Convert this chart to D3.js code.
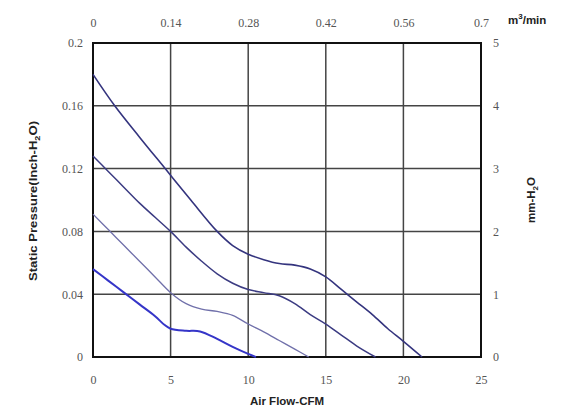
<!DOCTYPE html>
<html>
<head>
<meta charset="utf-8">
<script src="https://cdn.jsdelivr.net/npm/d3@7"></script>
<style>
  body { margin: 0; background: #fff; }
  .tick text { font-family: "Liberation Serif", "DejaVu Serif", serif; font-size: 12px; fill: #555; }
  .title { font-family: "Liberation Sans", Arial, sans-serif; font-weight: bold; font-size: 11.5px; fill: #222; }
</style>
</head>
<body>
<svg id="chart" width="570" height="410"></svg>
<script>
// CFM ticks (bottom) and m3/min ticks (top)
const cfmTicks = [0, 5, 10, 15, 20, 25];
const cmmTicks = ["0", "0.14", "0.28", "0.42", "0.56", "0.7"];
const inchTicks = [0, 0.04, 0.08, 0.12, 0.16, 0.2];
const mmTicks = [0, 1, 2, 3, 4, 5];

// curves: [CFM, inch-H2O]
const curveHigh = [[0,0.18],[1.4,0.16],[3,0.14],[4.65,0.12],[6.3,0.10],[8,0.08],[9,0.071],[10,0.0655],[11,0.062],[12,0.0595],[13,0.0585],[14,0.056],[15,0.051],[16,0.043],[17,0.035],[18,0.027],[19,0.018],[20,0.010],[21.2,0]];
const curveMid = [[0,0.128],[1,0.118],[2,0.108],[3,0.098],[4,0.089],[5,0.080],[6,0.070],[7,0.061],[8,0.053],[9,0.047],[10,0.043],[11,0.041],[12,0.039],[13,0.034],[14,0.027],[15,0.021],[16,0.014],[17,0.007],[18.2,0]];
const curveLow = [[0,0.091],[1,0.081],[2,0.071],[3,0.061],[4,0.051],[5,0.041],[6,0.034],[7,0.0305],[8,0.029],[9,0.0265],[10,0.021],[11,0.016],[12,0.0105],[13,0.005],[13.9,0]];
const curveMin = [[0,0.056],[1,0.0485],[2,0.041],[3,0.0335],[4,0.026],[4.6,0.0205],[5,0.018],[6,0.0167],[6.9,0.0163],[8,0.0115],[9,0.0065],[10,0.002],[10.5,0]];

const curves = [
  { data: curveHigh, color: "#34347e", width: 1.6 },
  { data: curveMid, color: "#3b3b82", width: 1.5 },
  { data: curveLow, color: "#7070aa", width: 1.3 },
  { data: curveMin, color: "#3535c8", width: 2 }
];

const svg = d3.select("#chart");
const m = { left: 93, right: 481, top: 43, bottom: 357 };

const x = d3.scaleLinear().domain([0, 25]).range([m.left, m.right]);
const y = d3.scaleLinear().domain([0, 0.2]).range([m.bottom, m.top]);
const yMM = d3.scaleLinear().domain([0, 5]).range([m.bottom, m.top]);

// grid
const grid = svg.append("g").attr("stroke", "#444").attr("stroke-width", 1.5);
grid.selectAll(".gx").data(cfmTicks.slice(1, -1)).join("line")
  .attr("x1", d => x(d)).attr("x2", d => x(d))
  .attr("y1", m.top).attr("y2", m.bottom);
grid.selectAll(".gy").data(inchTicks.slice(1, -1)).join("line")
  .attr("x1", m.left).attr("x2", m.right)
  .attr("y1", d => y(d)).attr("y2", d => y(d));

// axes
const bottomAxis = svg.append("g").attr("transform", `translate(0,${m.bottom})`)
  .call(d3.axisBottom(x).tickValues(cfmTicks).tickSize(0).tickPadding(18));
const topAxis = svg.append("g").attr("transform", `translate(0,${m.top})`)
  .call(d3.axisTop(x).tickValues(cfmTicks).tickFormat((d, i) => cmmTicks[i]).tickSize(0).tickPadding(16));
const leftAxis = svg.append("g").attr("transform", `translate(${m.left},0)`)
  .call(d3.axisLeft(y).tickValues(inchTicks).tickFormat(d => String(d)).tickSize(0).tickPadding(10));
const rightAxis = svg.append("g").attr("transform", `translate(${m.right},0)`)
  .call(d3.axisRight(yMM).tickValues(mmTicks).tickFormat(d => String(d)).tickSize(0).tickPadding(12));
[bottomAxis, topAxis, leftAxis, rightAxis].forEach(a => a.select(".domain").remove());

// frame
svg.append("rect")
  .attr("x", m.left).attr("y", m.top)
  .attr("width", m.right - m.left).attr("height", m.bottom - m.top)
  .attr("fill", "none").attr("stroke", "#111").attr("stroke-width", 2);

// curves
const line = d3.line().x(d => x(d[0])).y(d => y(d[1])).curve(d3.curveCatmullRom);
svg.append("g").selectAll("path").data(curves).join("path")
  .attr("d", d => line(d.data))
  .attr("fill", "none")
  .attr("stroke", d => d.color)
  .attr("stroke-width", d => d.width);

// titles
svg.append("text").attr("class", "title")
  .attr("x", (m.left + m.right) / 2).attr("y", 405)
  .attr("text-anchor", "middle").text("Air Flow-CFM");

const lt = svg.append("text").attr("class", "title")
  .attr("transform", "translate(37,201) rotate(-90)")
  .attr("text-anchor", "middle").attr("textLength", 160).attr("lengthAdjust", "spacingAndGlyphs");
lt.append("tspan").text("Static Pressure(Inch-H");
lt.append("tspan").attr("font-size", "8px").attr("dy", 3).text("2");
lt.append("tspan").attr("dy", -3).text("O)");

const rt = svg.append("text").attr("class", "title")
  .attr("transform", "translate(535,200) rotate(-90)")
  .attr("text-anchor", "middle");
rt.append("tspan").text("mm-H");
rt.append("tspan").attr("font-size", "8px").attr("dy", 3).text("2");
rt.append("tspan").attr("dy", -3).text("O");

const ut = svg.append("text").attr("class", "title")
  .attr("x", 508).attr("y", 24);
ut.append("tspan").text("m");
ut.append("tspan").attr("font-size", "8px").attr("dy", -5).text("3");
ut.append("tspan").attr("dy", 5).text("/min");
</script>
</body>
</html>
